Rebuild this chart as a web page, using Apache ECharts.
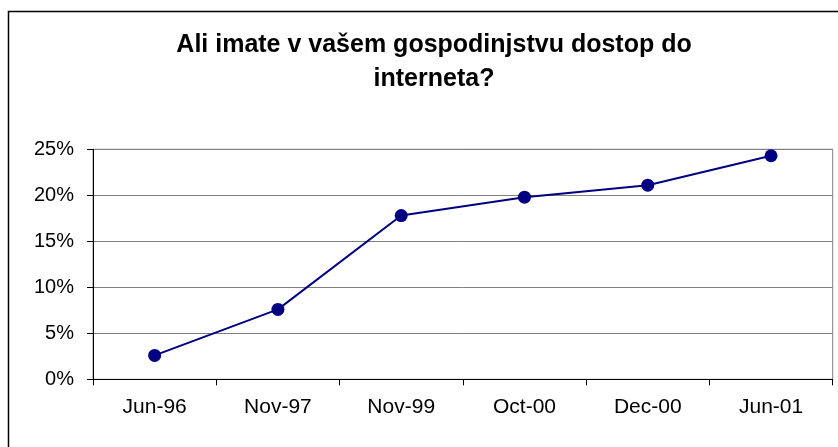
<!DOCTYPE html>
<html>
<head>
<meta charset="utf-8">
<script src="https://cdn.jsdelivr.net/npm/echarts@6/dist/echarts.min.js"></script>
<style>
  html, body { margin: 0; padding: 0; background: #fff; }
  #main { width: 838px; height: 447px; }
</style>
</head>
<body>
<div id="main"></div>
<script>
// podatki
var categories = ['Jun-96', 'Nov-97', 'Nov-99', 'Oct-00', 'Dec-00', 'Jun-01'];
var values = [2.6, 7.6, 17.8, 19.8, 21.1, 24.3];
var yTicks = [0, 5, 10, 15, 20, 25];

var font = 'Liberation Sans, Arial, sans-serif';
var chart = echarts.init(document.getElementById('main'), null, { renderer: 'canvas' });

var option = {
    animation: false,
    backgroundColor: '#fff',
    graphic: [{
        type: 'rect',
        shape: { x: 8.5, y: 11.5, width: 900, height: 500 },
        style: { fill: 'none', stroke: '#000', lineWidth: 1.5 },
        silent: true
    }],
    title: {
        text: 'Ali imate v vašem gospodinjstvu dostop do\ninterneta?',
        left: 429,
        top: 23,
        textAlign: 'center',
        textStyle: {
            fontFamily: font,
            fontWeight: 'bold',
            fontSize: 25,
            lineHeight: 34,
            color: '#000'
        }
    },
    grid: {
        left: 93,
        top: 149.3,
        right: 5.3,
        bottom: 67.7,
        show: true,
        borderColor: '#808080',
        borderWidth: 1
    },
    xAxis: {
        type: 'category',
        data: categories,
        boundaryGap: true,
        axisLine: { lineStyle: { color: '#000', width: 1 } },
        axisTick: { show: true, length: 6, inside: false, lineStyle: { color: '#000' } },
        axisLabel: { fontFamily: font, fontSize: 21, color: '#000', margin: 17 },
        splitLine: { show: false }
    },
    yAxis: {
        type: 'value',
        min: yTicks[0],
        max: yTicks[yTicks.length - 1],
        interval: 5,
        axisLine: { show: true, lineStyle: { color: '#000', width: 1 } },
        axisTick: { show: true, length: 6, lineStyle: { color: '#000' } },
        axisLabel: {
            fontFamily: font, fontSize: 20, color: '#000', margin: 19,
            formatter: function (v) { return v + '%'; }
        },
        splitLine: { show: true, lineStyle: { color: '#808080', width: 1 } }
    },
    series: [{
        type: 'line',
        data: values,
        symbol: 'circle',
        symbolSize: 13,
        lineStyle: { color: '#000080', width: 2 },
        itemStyle: { color: '#000080' }
    }]
};

chart.setOption(option);
</script>
</body>
</html>
